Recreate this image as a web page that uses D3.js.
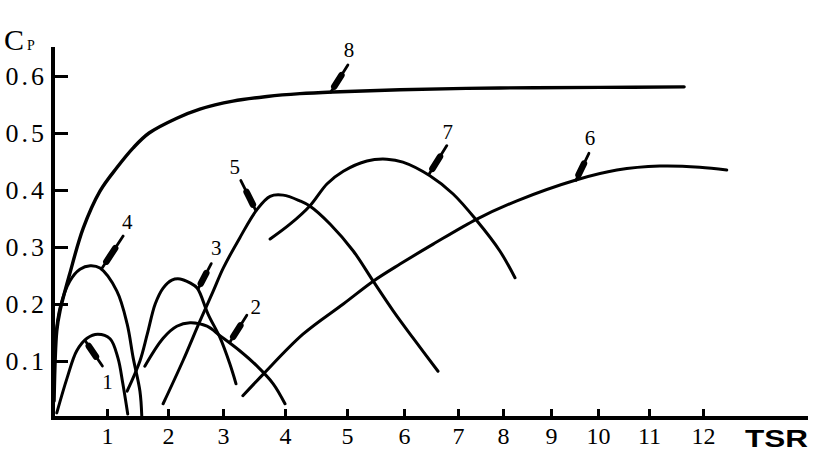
<!DOCTYPE html>
<html>
<head>
<meta charset="utf-8">
<script src="https://cdn.jsdelivr.net/npm/d3@7"></script>
<style>
  html, body { margin: 0; padding: 0; background: #fff; }
  svg { display: block; }
</style>
</head>
<body>
<svg id="chart" width="819" height="474"></svg>
<script>
// ---------- data ----------
const tsrTicks = [1, 2, 3, 4, 5, 6, 7, 8, 9, 10, 11, 12];
const cpTicks = [0.1, 0.2, 0.3, 0.4, 0.5, 0.6];

// each curve: [TSR, Cp] pairs
const curve1 = [[0.07,0.009],[0.26,0.070],[0.44,0.118],[0.63,0.140],[0.83,0.147],[1.05,0.139],[1.18,0.105],[1.26,0.060],[1.34,0.007]];
const curve2 = [[1.62,0.091],[1.92,0.140],[2.16,0.161],[2.40,0.167],[2.71,0.161],[2.95,0.144],[3.27,0.118],[3.55,0.091],[3.81,0.060],[4.00,0.025]];
const curve3 = [[1.33,0.047],[1.54,0.100],[1.66,0.147],[1.79,0.200],[1.92,0.228],[2.07,0.242],[2.22,0.244],[2.40,0.237],[2.53,0.228],[2.73,0.182],[2.95,0.140],[3.11,0.095],[3.21,0.060]];
const curve4 = [[0.04,0.135],[0.13,0.193],[0.31,0.240],[0.50,0.261],[0.69,0.267],[0.87,0.263],[1.16,0.223],[1.33,0.165],[1.43,0.105],[1.54,0.047],[1.57,0.004]];
const curve5 = [[1.92,0.025],[2.27,0.100],[2.58,0.170],[2.82,0.222],[3.00,0.262],[3.27,0.316],[3.55,0.366],[3.76,0.389],[3.97,0.391],[4.24,0.381],[4.40,0.372],[4.73,0.340],[5.11,0.293],[5.46,0.240],[5.81,0.188],[6.17,0.140],[6.63,0.082]];
const curve6 = [[3.32,0.039],[3.65,0.077],[4.29,0.147],[4.94,0.200],[5.46,0.240],[5.93,0.270],[6.54,0.305],[7.42,0.349],[8.29,0.381],[9.55,0.418],[10.37,0.435],[11.20,0.442],[11.94,0.440],[12.44,0.435]];
const curve7 = [[3.76,0.314],[4.08,0.340],[4.40,0.372],[4.68,0.411],[4.94,0.433],[5.35,0.451],[5.70,0.454],[5.98,0.449],[6.48,0.425],[6.91,0.393],[7.42,0.346],[7.93,0.293],[8.25,0.246]];
const curve8 = [[0.02,0.030],[0.07,0.153],[0.13,0.188],[0.31,0.253],[0.56,0.333],[0.87,0.398],[1.16,0.439],[1.43,0.474],[1.69,0.500],[2.16,0.526],[2.58,0.542],[3.16,0.556],[3.71,0.564],[4.24,0.569],[4.77,0.572],[5.93,0.576],[7.93,0.579],[10.04,0.580],[11.65,0.581]];

const curveNames = ["1","2","3","4","5","6","7","8"];
const curves = [curve1, curve2, curve3, curve4, curve5, curve6, curve7, curve8];
// arrow tips on each curve, [TSR, Cp]
const arrowTips = [[0.60,0.135],[3.11,0.133],[2.55,0.227],[0.91,0.263],[3.53,0.364],[9.53,0.417],[6.46,0.427],[4.74,0.572]];

// ---------- layout (styles / offsets, not data) ----------
const arrowLayout = [
  {tail:[17,25],  text:[5,23]},
  {tail:[17,-27], text:[9,-1]},
  {tail:[13,-25], text:[5,-9]},
  {tail:[21,-32], text:[4,-7]},
  {tail:[-15,-30],text:[-6,-7]},
  {tail:[13,-27], text:[1,-8]},
  {tail:[18,-29], text:[1,-7]},
  {tail:[17,-27], text:[1,-8]}
];

const svg = d3.select("#chart");

// hand-drawn axis: uneven tick spacing
const x = d3.scaleLinear()
  .domain([0,1,2,3,4,5,6,7,8,9,10,11,12])
  .range([53,107,168,223,285,347,404,458,503,551,598,649,703]);
const y = d3.scaleLinear().domain([0, 0.6]).range([418, 76]);

const serif = "'Liberation Serif', 'Times New Roman', serif";

// axes lines
svg.append("line").attr("x1", 53).attr("x2", 53).attr("y1", 47).attr("y2", 420)
  .attr("stroke", "#000").attr("stroke-width", 4);
svg.append("line").attr("x1", 51).attr("x2", 808).attr("y1", y(0)).attr("y2", y(0))
  .attr("stroke", "#000").attr("stroke-width", 4);

// x axis ticks
const gx = svg.append("g").attr("transform", `translate(0,${y(0)})`)
  .call(d3.axisBottom(x).tickValues(tsrTicks).tickSize(-9).tickPadding(9).tickFormat(d3.format("d")));
gx.select(".domain").remove();
gx.selectAll(".tick line").attr("stroke", "#000").attr("stroke-width", 3);
gx.selectAll(".tick text").attr("font-family", serif).attr("font-size", 24).attr("fill", "#000");

// y axis ticks
const gy = svg.append("g").attr("transform", `translate(53,0)`)
  .call(d3.axisLeft(y).tickValues(cpTicks).tickSize(-15).tickPadding(6).tickFormat(d3.format(".1f")));
gy.select(".domain").remove();
gy.selectAll(".tick line").attr("stroke", "#000").attr("stroke-width", 3);
gy.selectAll(".tick text").attr("font-family", serif).attr("font-size", 26)
  .attr("letter-spacing", 3).attr("fill", "#000");

// axis titles
const cp = svg.append("text").attr("x", 4).attr("y", 50).attr("font-family", serif).attr("fill", "#000");
cp.append("tspan").attr("font-size", 30).text("C");
cp.append("tspan").attr("font-size", 14).attr("dx", 3).text("P");

svg.append("text").attr("x", 745).attr("y", 447)
  .attr("font-family", "'Liberation Sans', Arial, sans-serif").attr("font-weight", "bold")
  .attr("font-size", 24).attr("textLength", 63).attr("lengthAdjust", "spacingAndGlyphs")
  .attr("fill", "#000").text("TSR");

// curves
const line = d3.line().x(d => x(d[0])).y(d => y(d[1])).curve(d3.curveCatmullRom.alpha(0.5));
svg.append("g").selectAll("path").data(curves).join("path")
  .attr("d", line)
  .attr("fill", "none").attr("stroke", "#000")
  .attr("stroke-width", (d, i) => i === 7 ? 3.4 : 3)
  .attr("stroke-linecap", "round");

// arrows + labels
const ga = svg.append("g");
arrowTips.forEach((t, i) => {
  const tx = x(t[0]), ty = y(t[1]);
  const L = arrowLayout[i];
  const sx = tx + L.tail[0], sy = ty + L.tail[1];
  ga.append("line").attr("x1", sx).attr("y1", sy).attr("x2", tx).attr("y2", ty)
    .attr("stroke", "#000").attr("stroke-width", 2.8).attr("stroke-linecap", "round");
  const p = f => [tx + (sx - tx) * f, ty + (sy - ty) * f];
  const a = p(0.2), b = p(0.62);
  ga.append("line").attr("x1", a[0]).attr("y1", a[1]).attr("x2", b[0]).attr("y2", b[1])
    .attr("stroke", "#000").attr("stroke-width", 6.5).attr("stroke-linecap", "round");
  ga.append("text").attr("x", sx + L.text[0]).attr("y", sy + L.text[1])
    .attr("text-anchor", "middle").attr("font-family", serif).attr("font-size", 21)
    .attr("fill", "#000").text(curveNames[i]);
});
</script>
</body>
</html>
